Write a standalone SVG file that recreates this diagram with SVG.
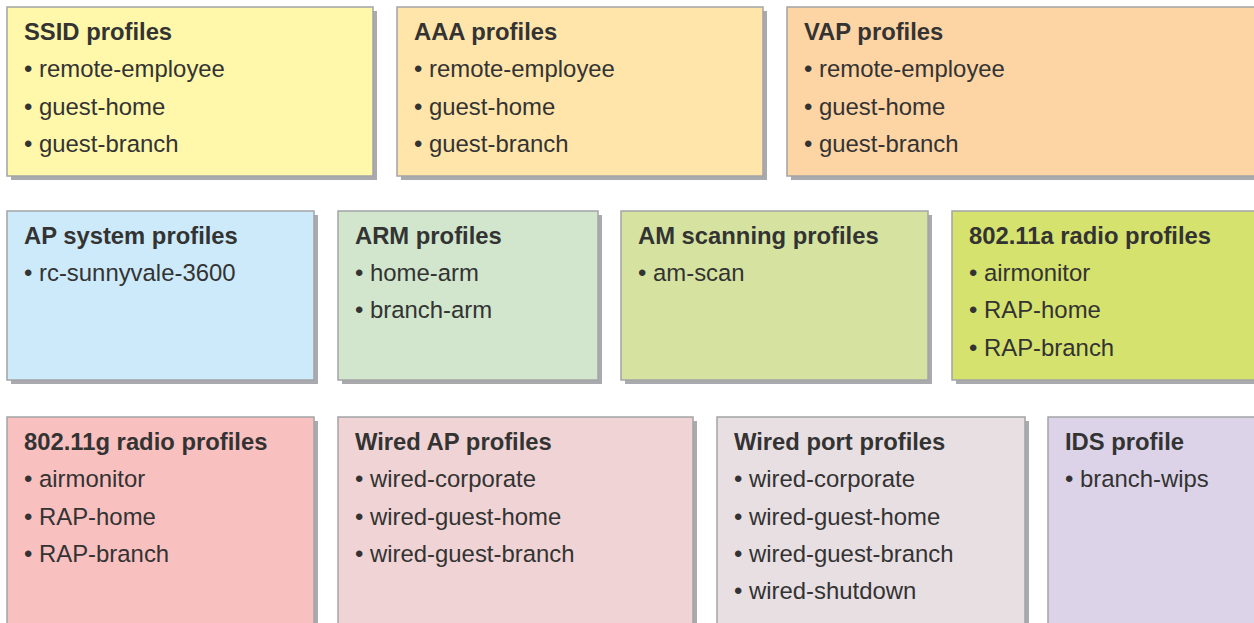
<svg xmlns="http://www.w3.org/2000/svg" width="1254" height="623" viewBox="0 0 1254 623">
  <style>
    .shadow { fill: #a9aaad; }
    .box { stroke: #a3a4a6; stroke-width: 1.5; }
    text { font-family: "Liberation Sans", Arial, sans-serif; fill: #333333; }
    .title { font-size: 23.8px; font-weight: bold; }
    .item { font-size: 23.9px; }
  </style>
  <rect width="1254" height="623" fill="#ffffff"/>

  <!-- Row 1 -->
  <g id="ssid">
    <rect class="shadow" x="11" y="11" width="366" height="169"/>
    <rect class="box" x="7" y="7" width="366" height="169" fill="#fff7aa"/>
    <text class="title" x="24" y="40">SSID profiles</text>
    <text class="item" x="24" y="77">• remote-employee</text>
    <text class="item" x="24" y="115">• guest-home</text>
    <text class="item" x="24" y="152">• guest-branch</text>
  </g>
  <g id="aaa">
    <rect class="shadow" x="401" y="11" width="366" height="169"/>
    <rect class="box" x="397" y="7" width="366" height="169" fill="#ffe5a9"/>
    <text class="title" x="414" y="40">AAA profiles</text>
    <text class="item" x="414" y="77">• remote-employee</text>
    <text class="item" x="414" y="115">• guest-home</text>
    <text class="item" x="414" y="152">• guest-branch</text>
  </g>
  <g id="vap">
    <rect class="shadow" x="791" y="11" width="480" height="169"/>
    <rect class="box" x="787" y="7" width="480" height="169" fill="#fdd4a3"/>
    <text class="title" x="804" y="40">VAP profiles</text>
    <text class="item" x="804" y="77">• remote-employee</text>
    <text class="item" x="804" y="115">• guest-home</text>
    <text class="item" x="804" y="152">• guest-branch</text>
  </g>

  <!-- Row 2 -->
  <g id="ap-system">
    <rect class="shadow" x="11" y="215" width="307" height="169"/>
    <rect class="box" x="7" y="211" width="307" height="169" fill="#cdeafa"/>
    <text class="title" x="24" y="244">AP system profiles</text>
    <text class="item" x="24" y="281">• rc-sunnyvale-3600</text>
  </g>
  <g id="arm">
    <rect class="shadow" x="342" y="215" width="260" height="169"/>
    <rect class="box" x="338" y="211" width="260" height="169" fill="#d1e6cc"/>
    <text class="title" x="355" y="244">ARM profiles</text>
    <text class="item" x="355" y="281">• home-arm</text>
    <text class="item" x="355" y="318">• branch-arm</text>
  </g>
  <g id="am-scan">
    <rect class="shadow" x="625" y="215" width="307" height="169"/>
    <rect class="box" x="621" y="211" width="307" height="169" fill="#d6e3a0"/>
    <text class="title" x="638" y="244">AM scanning profiles</text>
    <text class="item" x="638" y="281">• am-scan</text>
  </g>
  <g id="radio-a">
    <rect class="shadow" x="956" y="215" width="320" height="169"/>
    <rect class="box" x="952" y="211" width="320" height="169" fill="#d5e26e"/>
    <text class="title" x="969" y="244">802.11a radio profiles</text>
    <text class="item" x="969" y="281">• airmonitor</text>
    <text class="item" x="969" y="318">• RAP-home</text>
    <text class="item" x="969" y="356">• RAP-branch</text>
  </g>

  <!-- Row 3 -->
  <g id="radio-g">
    <rect class="shadow" x="11" y="421" width="307" height="230"/>
    <rect class="box" x="7" y="417" width="307" height="230" fill="#f9c0c0"/>
    <text class="title" x="24" y="450">802.11g radio profiles</text>
    <text class="item" x="24" y="487">• airmonitor</text>
    <text class="item" x="24" y="525">• RAP-home</text>
    <text class="item" x="24" y="562">• RAP-branch</text>
  </g>
  <g id="wired-ap">
    <rect class="shadow" x="342" y="421" width="355" height="230"/>
    <rect class="box" x="338" y="417" width="355" height="230" fill="#efd3d5"/>
    <text class="title" x="355" y="450">Wired AP profiles</text>
    <text class="item" x="355" y="487">• wired-corporate</text>
    <text class="item" x="355" y="525">• wired-guest-home</text>
    <text class="item" x="355" y="562">• wired-guest-branch</text>
  </g>
  <g id="wired-port">
    <rect class="shadow" x="721" y="421" width="308" height="230"/>
    <rect class="box" x="717" y="417" width="308" height="230" fill="#e8dfe3"/>
    <text class="title" x="734" y="450">Wired port profiles</text>
    <text class="item" x="734" y="487">• wired-corporate</text>
    <text class="item" x="734" y="525">• wired-guest-home</text>
    <text class="item" x="734" y="562">• wired-guest-branch</text>
    <text class="item" x="734" y="599">• wired-shutdown</text>
  </g>
  <g id="ids">
    <rect class="shadow" x="1052" y="421" width="240" height="230"/>
    <rect class="box" x="1048" y="417" width="240" height="230" fill="#dcd3e8"/>
    <text class="title" x="1065" y="450">IDS profile</text>
    <text class="item" x="1065" y="487">• branch-wips</text>
  </g>

  <!-- no connectors in this figure -->
  <g id="connectors"/>
</svg>
